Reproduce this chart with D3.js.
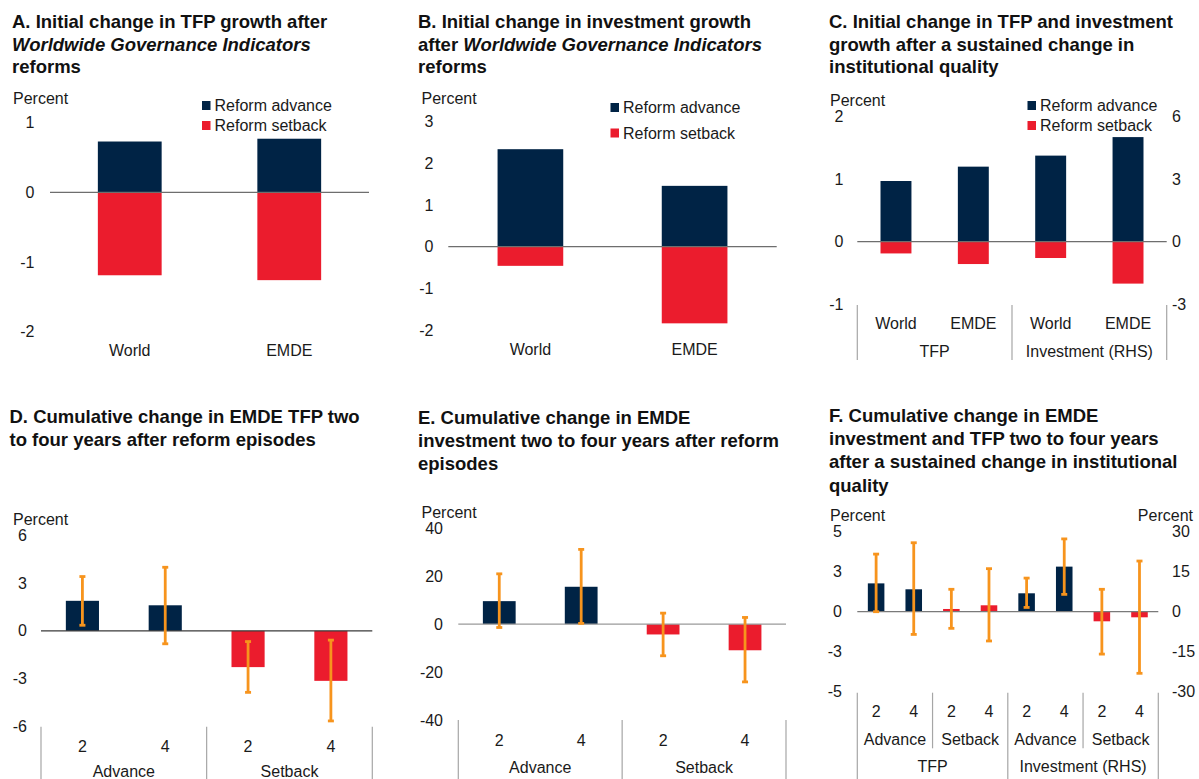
<!DOCTYPE html>
<html>
<head>
<meta charset="utf-8">
<script src="https://cdn.jsdelivr.net/npm/d3@7"></script>
<style>
  body { margin: 0; background: #fff; }
  svg text { font-family: "Liberation Sans", Arial, Helvetica, sans-serif; }
</style>
</head>
<body>
<svg id="chart" width="1199" height="779"></svg>
<script>
// ---------- Panel A: initial change in TFP growth after WGI reforms ----------
const aCategories = ["World", "EMDE"];
const aAdvance = [0.73, 0.77];
const aSetback = [-1.19, -1.26];
const aTicks = [1, 0, -1, -2];

// ---------- Panel B: initial change in investment growth after WGI reforms ----------
const bCategories = ["World", "EMDE"];
const bAdvance = [2.34, 1.46];
const bSetback = [-0.46, -1.84];
const bTicks = [3, 2, 1, 0, -1, -2];

// ---------- Panel C: initial change after a sustained change in institutional quality ----------
const cCategories = ["World", "EMDE", "World", "EMDE"];
const cGroups = ["TFP", "Investment (RHS)"];
const cAdvanceTFP = [0.97, 1.20];
const cSetbackTFP = [-0.19, -0.36];
const cAdvanceInv = [4.13, 5.02];
const cSetbackInv = [-0.79, -2.02];
const cLeftTicks = [2, 1, 0, -1];
const cRightTicks = [6, 3, 0, -3];

// ---------- Panel D: cumulative change in EMDE TFP ----------
const dHorizons = ["2", "4", "2", "4"];
const dGroups = ["Advance", "Setback"];
const dValues = [1.88, 1.60, -2.27, -3.13];
const dLower = [0.35, -0.81, -3.85, -5.64];
const dUpper = [3.40, 3.98, -0.67, -0.58];
const dTicks = [6, 3, 0, -3, -6];

// ---------- Panel E: cumulative change in EMDE investment ----------
const eHorizons = ["2", "4", "2", "4"];
const eGroups = ["Advance", "Setback"];
const eValues = [9.6, 15.6, -4.3, -10.9];
const eLower = [-1.4, 0.3, -13.2, -24.1];
const eUpper = [21.0, 31.2, 4.6, 2.8];
const eTicks = [40, 20, 0, -20, -40];

// ---------- Panel F: cumulative change after a sustained change in institutional quality ----------
const fHorizons = ["2", "4", "2", "4", "2", "4", "2", "4"];
const fSubGroups = ["Advance", "Setback", "Advance", "Setback"];
const fGroups = ["TFP", "Investment (RHS)"];
const fTFPValues = [1.77, 1.40, 0.17, 0.40];
const fTFPLower = [0.00, -1.42, -1.04, -1.83];
const fTFPUpper = [3.60, 4.31, 1.40, 2.69];
const fInvValues = [6.9, 16.9, -3.6, -2.1];
const fInvLower = [1.6, 6.5, -15.9, -23.1];
const fInvUpper = [12.6, 27.3, 8.4, 19.0];
const fLeftTicks = [5, 2.5, 0, -2.5, -5];
const fLeftTickLabels = ["5", "3", "0", "-3", "-5"];
const fRightTicks = [30, 15, 0, -15, -30];

const legendLabels = ["Reform advance", "Reform setback"];

// ---------- styling ----------
const NAVY = "#002345";
const RED = "#EB1C2D";
const ORANGE = "#F7941D";
const TXT = "#1a1a1a";
const ZERO = "#6e6e6e";
const SEP = "#a6a6a6";
const FS = 16;
const plain = d => String(d);   // hyphen-minus, as in the source charts

const svg = d3.select("#chart");

function title(x, baselines, lines) {
  lines.forEach((segs, i) => {
    const t = svg.append("text")
      .attr("x", x).attr("y", baselines[i])
      .attr("font-size", 18.5).attr("font-weight", "bold").attr("fill", "#111");
    segs.forEach(s => {
      t.append("tspan").text(s[0]).attr("font-style", s[1] ? "italic" : "normal");
    });
  });
}

function plainText(x, y, str, anchor = "start") {
  return svg.append("text").attr("x", x).attr("y", y).attr("dy", "0.35em")
    .attr("text-anchor", anchor).attr("font-size", FS).attr("fill", TXT).text(str);
}

function styleAxis(g) {
  g.select(".domain").remove();
  g.selectAll(".tick line").remove();
  g.selectAll("text").attr("font-size", FS).attr("fill", TXT)
    .attr("font-family", "'Liberation Sans', Arial, sans-serif");
}

function leftAxis(scale, ticks, fmt, x) {
  const g = svg.append("g").attr("transform", `translate(${x},0)`)
    .call(d3.axisLeft(scale).tickValues(ticks).tickSize(0).tickPadding(0).tickFormat(fmt));
  styleAxis(g);
  return g;
}

function rightAxis(scale, ticks, x) {
  const g = svg.append("g").attr("transform", `translate(${x},0)`)
    .call(d3.axisRight(scale).tickValues(ticks).tickSize(0).tickPadding(0).tickFormat(plain));
  styleAxis(g);
  return g;
}

function bottomLabels(scale, fmt, yCenter) {
  const g = svg.append("g").attr("transform", `translate(0,${yCenter})`)
    .call(d3.axisBottom(scale).tickSize(0).tickPadding(0).tickFormat(fmt));
  styleAxis(g);
  g.selectAll("text").attr("y", 0).attr("dy", "0.35em");
  return g;
}

function legend(x, ys) {
  [NAVY, RED].forEach((c, i) => {
    svg.append("rect").attr("x", x).attr("y", ys[i] - 4.5).attr("width", 8.5).attr("height", 9).attr("fill", c);
    plainText(x + 12.5, ys[i], legendLabels[i]);
  });
}

function zeroLine(x0, x1, y, color = ZERO) {
  svg.append("line").attr("x1", x0).attr("x2", x1).attr("y1", y).attr("y2", y)
    .attr("stroke", color).attr("stroke-width", 1.3);
}

function separator(x, y0, y1) {
  svg.append("line").attr("x1", x).attr("x2", x).attr("y1", y0).attr("y2", y1)
    .attr("stroke", SEP).attr("stroke-width", 1.2);
}

function bandEdge(x, i) {
  return x(i) - (x.step() - x.bandwidth()) / 2;
}

function bar(x, i, y, v, color) {
  svg.append("rect")
    .attr("x", x(i)).attr("width", x.bandwidth())
    .attr("y", Math.min(y(v), y(0))).attr("height", Math.abs(y(v) - y(0)))
    .attr("fill", color);
}

function errorBar(x, i, y, lo, hi) {
  const cx = x(i) + x.bandwidth() / 2;
  svg.append("line").attr("x1", cx).attr("x2", cx).attr("y1", y(hi)).attr("y2", y(lo))
    .attr("stroke", ORANGE).attr("stroke-width", 2.8);
  [lo, hi].forEach(v => {
    svg.append("line").attr("x1", cx - 3).attr("x2", cx + 3).attr("y1", y(v)).attr("y2", y(v))
      .attr("stroke", ORANGE).attr("stroke-width", 2.8);
  });
}

function bandScale(n, x0, x1, inner) {
  return d3.scaleBand().domain(d3.range(n)).range([x0, x1])
    .paddingInner(inner).paddingOuter(inner / 2);
}

// ================= Panel A =================
title(12, [28, 50.5, 73], [
  [["A. Initial change in TFP growth after", false]],
  [["Worldwide Governance Indicators", true]],
  [["reforms", false]]
]);
{
  const y = d3.scaleLinear().domain([-2, 1]).range([331.7, 122.7]);
  const x = bandScale(aCategories.length, 50, 369, 0.6);
  aAdvance.forEach((v, i) => bar(x, i, y, v, NAVY));
  aSetback.forEach((v, i) => bar(x, i, y, v, RED));
  zeroLine(50, 369, y(0));
  leftAxis(y, aTicks, plain, 34.5);
  bottomLabels(x, i => aCategories[i], 350);
  plainText(13, 98.5, "Percent");
  legend(202, [105.5, 125.5]);
}

// ================= Panel B =================
title(418, [28, 50.5, 73], [
  [["B. Initial change in investment growth", false]],
  [["after ", false], ["Worldwide Governance Indicators", true]],
  [["reforms", false]]
]);
{
  const y = d3.scaleLinear().domain([-2, 3]).range([330, 121.7]);
  const x = bandScale(bCategories.length, 448.3, 776.7, 0.6);
  bAdvance.forEach((v, i) => bar(x, i, y, v, NAVY));
  bSetback.forEach((v, i) => bar(x, i, y, v, RED));
  zeroLine(448.3, 776.7, y(0));
  leftAxis(y, bTicks, plain, 433.5);
  bottomLabels(x, i => bCategories[i], 349);
  plainText(421.5, 98, "Percent");
  legend(610.5, [107.5, 133]);
}

// ================= Panel C =================
title(829, [28, 50.5, 73], [
  [["C. Initial change in TFP and investment", false]],
  [["growth after a sustained change in", false]],
  [["institutional quality", false]]
]);
{
  const yL = d3.scaleLinear().domain([-1, 2]).range([304, 116.7]);
  const yR = d3.scaleLinear().domain([-3, 6]).range([304, 116.7]);
  const x0 = 857.3, x1 = 1166.7;
  const x = bandScale(cCategories.length, x0, x1, 0.6);
  cAdvanceTFP.forEach((v, i) => bar(x, i, yL, v, NAVY));
  cSetbackTFP.forEach((v, i) => bar(x, i, yL, v, RED));
  cAdvanceInv.forEach((v, i) => bar(x, i + 2, yR, v, NAVY));
  cSetbackInv.forEach((v, i) => bar(x, i + 2, yR, v, RED));
  zeroLine(x0, x1, yL(0));
  leftAxis(yL, cLeftTicks, plain, 843.5);
  rightAxis(yR, cRightTicks, 1172);
  bottomLabels(x, i => cCategories[i], 323);
  const g = d3.scaleBand().domain(d3.range(cGroups.length)).range([x0, x1]);
  bottomLabels(g, i => cGroups[i], 351.5);
  [0, 2, 4].forEach(i => separator(i < 4 ? bandEdge(x, i) : x1, 305, 360));
  plainText(830, 100, "Percent");
  legend(1027.5, [105.5, 125.5]);
}

// ================= Panel D =================
title(9.5, [422.5, 445.5], [
  [["D. Cumulative change in EMDE TFP two", false]],
  [["to four years after reform episodes", false]]
]);
{
  const y = d3.scaleLinear().domain([-6, 6]).range([726.7, 535]);
  const x0 = 41, x1 = 372.3;
  const x = bandScale(dHorizons.length, x0, x1, 0.6);
  dValues.forEach((v, i) => bar(x, i, y, v, i < 2 ? NAVY : RED));
  zeroLine(x0, x1, y(0), "#3a3a3a");
  dValues.forEach((v, i) => errorBar(x, i, y, dLower[i], dUpper[i]));
  leftAxis(y, dTicks, plain, 27);
  bottomLabels(x, i => dHorizons[i], 746.5);
  const g = d3.scaleBand().domain(d3.range(dGroups.length)).range([x0, x1]);
  bottomLabels(g, i => dGroups[i], 771.5);
  [0, 2].forEach(i => separator(bandEdge(x, i), 726.7, 779));
  separator(x1, 726.7, 779);
  plainText(13, 519, "Percent");
}

// ================= Panel E =================
title(418, [423.5, 446.8, 470], [
  [["E. Cumulative change in EMDE", false]],
  [["investment two to four years after reform", false]],
  [["episodes", false]]
]);
{
  const y = d3.scaleLinear().domain([-40, 40]).range([720, 528.3]);
  const x0 = 458.3, x1 = 786;
  const x = bandScale(eHorizons.length, x0, x1, 0.6);
  eValues.forEach((v, i) => bar(x, i, y, v, i < 2 ? NAVY : RED));
  zeroLine(x0, x1, y(0), "#9a9a9a");
  eValues.forEach((v, i) => errorBar(x, i, y, eLower[i], eUpper[i]));
  leftAxis(y, eTicks, plain, 443);
  bottomLabels(x, i => eHorizons[i], 740);
  const g = d3.scaleBand().domain(d3.range(eGroups.length)).range([x0, x1]);
  bottomLabels(g, i => eGroups[i], 767);
  [0, 2].forEach(i => separator(bandEdge(x, i), 720, 779));
  separator(x1, 720, 779);
  plainText(421.5, 512.5, "Percent");
}

// ================= Panel F =================
title(829, [421.7, 445, 468.3, 491.6], [
  [["F. Cumulative change in EMDE", false]],
  [["investment and TFP two to four years", false]],
  [["after a sustained change in institutional", false]],
  [["quality", false]]
]);
{
  const yL = d3.scaleLinear().domain([-5, 5]).range([691.7, 531.7]);
  const yR = d3.scaleLinear().domain([-30, 30]).range([691.7, 531.7]);
  const x0 = 857.3, x1 = 1158.3;
  const x = bandScale(fHorizons.length, x0, x1, 0.56);
  fTFPValues.forEach((v, i) => bar(x, i, yL, v, i < 2 ? NAVY : RED));
  fInvValues.forEach((v, i) => bar(x, i + 4, yR, v, i < 2 ? NAVY : RED));
  zeroLine(x0, x1, yL(0), "#7a7a7a");
  fTFPValues.forEach((v, i) => errorBar(x, i, yL, fTFPLower[i], fTFPUpper[i]));
  fInvValues.forEach((v, i) => errorBar(x, i + 4, yR, fInvLower[i], fInvUpper[i]));
  leftAxis(yL, fLeftTicks, (d, i) => fLeftTickLabels[i], 842);
  rightAxis(yR, fRightTicks, 1172);
  bottomLabels(x, i => fHorizons[i], 711.5);
  const sg = d3.scaleBand().domain(d3.range(fSubGroups.length)).range([x0, x1]);
  bottomLabels(sg, i => fSubGroups[i], 739.3);
  const g = d3.scaleBand().domain(d3.range(fGroups.length)).range([x0, x1]);
  bottomLabels(g, i => fGroups[i], 766.7);
  [0, 4].forEach(i => separator(bandEdge(x, i), 692.7, 779));
  separator(x1, 692.7, 779);
  [2, 6].forEach(i => separator(bandEdge(x, i), 692.7, 748.3));
  plainText(830, 515, "Percent");
  plainText(1193, 515, "Percent", "end");
}
</script>
</body>
</html>
